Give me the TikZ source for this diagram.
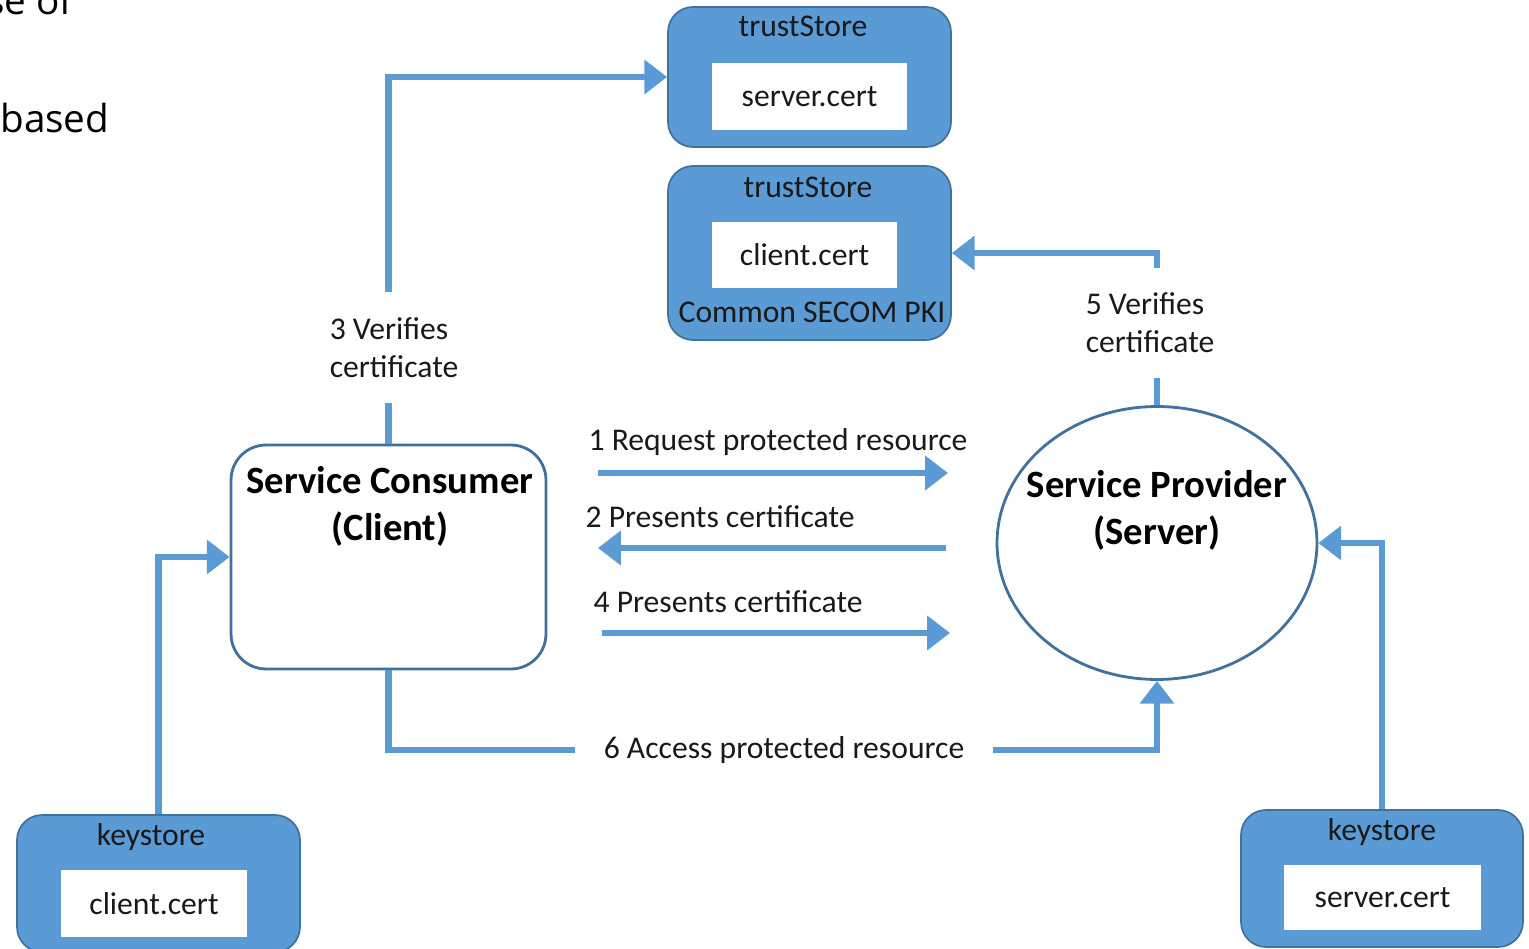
\documentclass[tikz,border=0pt]{standalone}
\usepackage{fontspec}
\setmainfont{Carlito}
\newfontfamily\docfont{Open Sans}
\usetikzlibrary{arrows.meta,shapes.geometric}
\definecolor{storeblue}{HTML}{5B9BD5}
\definecolor{edgeblue}{HTML}{41719C}

\tikzset{
  store/.style={draw=edgeblue, fill=storeblue, line width=1pt, rounded corners=0.5cm},
  certbox/.style={fill=white, font=\fontsize{18}{21}\selectfont, text=black!90},
  lbl/.style={font=\fontsize{18}{21.5}\selectfont, text=black!90},
  party/.style={font=\bfseries\fontsize{22}{26.6}\selectfont, align=center},
  flow/.style={draw=storeblue, line width=3.8pt},
  flowarrow/.style={flow, -{Triangle[length=13pt,width=19pt]}},
}

\begin{document}
\begin{tikzpicture}[x=0.02cm, y=-0.02cm]
\useasboundingbox (0,0) rectangle (1529,949);

% text of the page around the figure
\node[anchor=base east, inner sep=0, font=\docfont\fontsize{22}{26}\selectfont] (frag1) at (73,15) {se of};
\node[anchor=base west, inner sep=0, font=\docfont\fontsize{22}{26}\selectfont] (frag2) at (0,133) {based};

% trust stores
\node[store, minimum width=5.66cm, minimum height=2.8cm] (ts1) at (809.5,77) {};
\node[lbl] (ts1t) at (803,26) {trustStore};
\node[certbox, minimum width=3.9cm, minimum height=1.34cm] (ts1c) at (809.5,96.5) {server.cert};

\node[store, minimum width=5.66cm, minimum height=3.48cm] (ts2) at (809.5,253) {};
\node[lbl] (ts2t) at (808,187) {trustStore};
\node[certbox, minimum width=3.7cm, minimum height=1.32cm] (ts2c) at (804.5,255) {client.cert};
\node[lbl] (pki) at (812,312) {Common SECOM PKI};

% parties
\node[draw=edgeblue, line width=1.6pt, rounded corners=0.7cm, fill=white, minimum width=6.3cm, minimum height=4.48cm] (cons) at (388.5,557) {};
\node[party] (const) at (390,506) {Service Consumer\\(Client)};

\node[ellipse, draw=edgeblue, line width=1.6pt, fill=white, inner sep=0, minimum width=6.4cm, minimum height=5.46cm] (prov) at (1157,543) {};
\node[party] (provt) at (1157,510) {Service Provider\\(Server)};

% key stores
\node[store, minimum width=5.66cm, minimum height=2.74cm] (ks1) at (158.5,883.5) {};
\node[lbl] (ks1t) at (151,837) {keystore};
\node[certbox, minimum width=3.72cm, minimum height=1.34cm] (ks1c) at (154,903.5) {client.cert};

\node[store, minimum width=5.64cm, minimum height=2.74cm] (ks2) at (1382,878.5) {};
\node[lbl] (ks2t) at (1382,832) {keystore};
\node[certbox, minimum width=3.94cm, minimum height=1.3cm] (ks2c) at (1382.5,897.5) {server.cert};

% step labels
\node[lbl, align=left, minimum height=2.22cm] (v3) at (394,347.5) {3 Verifies\\certificate};
\node[lbl, align=left, minimum height=2.2cm] (v5) at (1150,323) {5 Verifies\\certificate};
\node[lbl] (m1) at (778,442) {1 Request protected resource};
\node[lbl] (m2) at (720,517) {2 Presents certificate};
\node[lbl] (m4) at (728,602) {4 Presents certificate};
\node[lbl, minimum width=8.36cm] (m6) at (784,750) {6 Access protected resource};

\coordinate (m1s) at (598,473);
\coordinate (m1e) at (948,473);
\coordinate (m2s) at (946,548);
\coordinate (m2e) at (598,548);
\coordinate (m4s) at (602,633);
\coordinate (m4e) at (950,633);

% connectors
\draw[flow] (cons.north) -- (cons.north |- v3.south);
\draw[flowarrow] (cons.north |- v3.north) |- (ts1.west);
\draw[flow] (prov.north) -- (prov.north |- v5.south);
\draw[flowarrow] (prov.north |- v5.north) |- (ts2.east);

\draw[flowarrow] (m1s) -- (m1e);
\draw[flowarrow] (m2s) -- (m2e);
\draw[flowarrow] (m4s) -- (m4e);

\draw[flow] (cons.south) |- (m6.west);
\draw[flowarrow] (m6.east) -| (prov.south);

\draw[flowarrow] (ks1.north) |- (cons.west);
\draw[flowarrow] (ks2.north) |- (prov.east);

\end{tikzpicture}
\end{document}
